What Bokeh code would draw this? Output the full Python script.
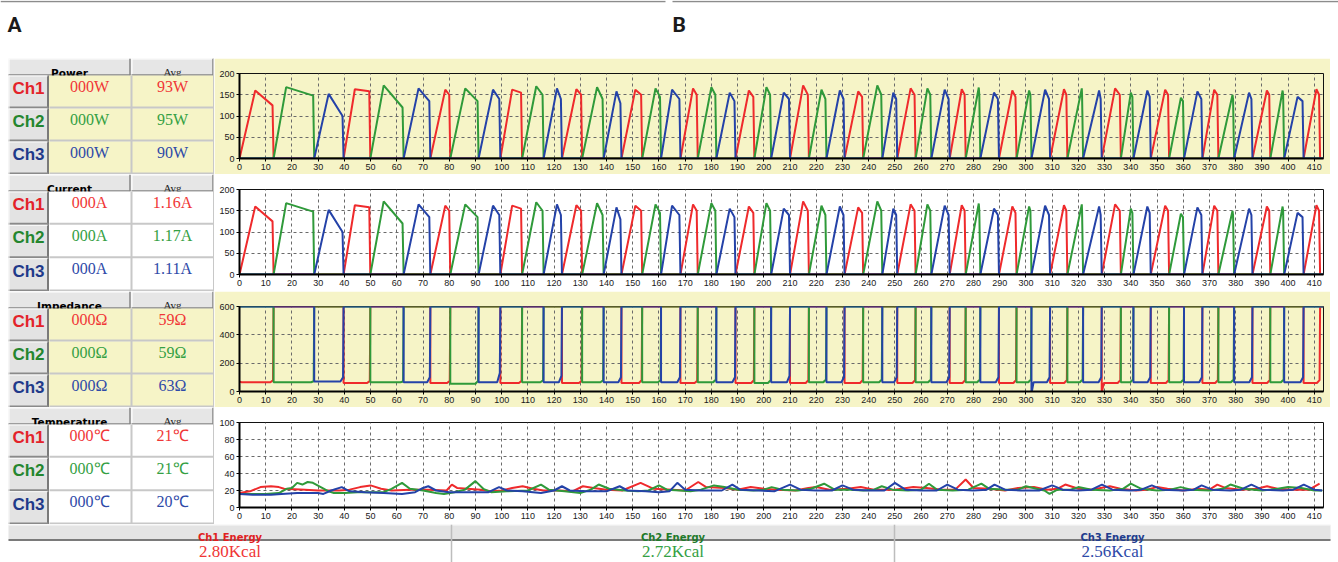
from bokeh.plotting import figure
from bokeh.layouts import column, row
from bokeh.models import Range1d, FixedTicker
from bokeh.embed import file_html
from bokeh.resources import INLINE
from bokeh.core.properties import value

# ---------------- data ----------------
channels = ["Ch1", "Ch2", "Ch3"]
power_now = ["000W", "000W", "000W"]
power_avg = ["93W", "95W", "90W"]
current_now = ["000A", "000A", "000A"]
current_avg = ["1.16A", "1.17A", "1.11A"]
imp_now = ["000Ω", "000Ω", "000Ω"]
imp_avg = ["59Ω", "59Ω", "63Ω"]
temp_now = ["000℃", "000℃", "000℃"]
temp_avg = ["21℃", "21℃", "20℃"]
energy_labels = ["Ch1 Energy", "Ch2 Energy", "Ch3 Energy"]
energy_values = ["2.80Kcal", "2.72Kcal", "2.56Kcal"]
panel_letters = ["A", "B"]

x_ticks = list(range(0, 411, 10))
power_ticks = [0, 50, 100, 150, 200]
imp_ticks = [0, 200, 400, 600]
temp_ticks = [0, 20, 40, 60, 80, 100]
X_END = 413.5

# pulse sequence (channel of each pulse, end time, peak time, peak value, value before drop)
pulse_ch = "RGBRGBRGBRGBRGBRGBRGBRGBRGBRGBRGBRGBRGBRGBRGBRGBRGBRGBR"
pulse_end = [13.0, 28.5, 39.7, 49.9, 62.6, 72.8, 80.4, 91.2, 99.5,
             107.8, 116.0, 123.0, 130.7, 138.9, 145.7, 153.6, 160.8, 168.2, 174.8, 181.9, 189.2, 196.4, 202.8, 210.0,
             217.2, 223.9, 230.8, 237.9, 245.2, 250.9, 257.9, 263.9, 270.9, 277.0, 282.6, 289.7, 296.4, 302.1, 309.2, 315.8,
             321.8, 328.9, 336.2, 341.0, 347.6, 354.6, 360.3, 367.3, 373.4, 379.4, 386.4, 393.2, 398.5, 405.9, 412.2]
peak_t = [6.0, 17.8, 34.0, 44.0, 55.0, 68.3, 78.5, 86.1, 96.7,
          104.0, 113.2, 121.1, 128.5, 136.4, 143.8, 151.0, 158.7, 165.0, 173.0, 180.0, 187.0, 194.3, 201.0, 207.6,
          215.0, 222.0, 229.0, 236.0, 243.3, 249.4, 256.0, 262.4, 269.0, 275.5, 282.0, 287.8, 294.8, 301.2, 307.3, 314.5,
          321.3, 327.9, 334.0, 340.0, 346.3, 353.1, 359.1, 365.4, 371.8, 378.8, 385.1, 391.9, 397.9, 403.6, 410.8]
peak_v = [160, 168, 152, 163, 172, 165, 162, 165, 162,
          162, 170, 165, 163, 168, 158, 162, 165, 162, 165, 168, 155, 160, 168, 155,
          172, 162, 160, 158, 172, 155, 165, 165, 162, 163, 167, 155, 160, 160, 162, 163,
          165, 160, 165, 155, 160, 162, 143, 158, 162, 150, 155, 160, 160, 145, 163]
hold_v = [125, 148, 100, 158, 120, 135, 150, 135, 140,
          155, 150, 140, 150, 140, 130, 150, 145, 140, 150, 150, 135, 145, 150, 140,
          150, 140, 140, 145, 150, 140, 150, 150, 140, 150, 150, 140, 145, 150, 140, 150,
          150, 140, 150, 145, 145, 150, 135, 140, 150, 140, 140, 150, 150, 135, 150]

# impedance during each pulse (first value, level, value at end)
imp_start = [70, 65, 70, 60, 65, 65, 60, 55, 65,
             60, 65, 65, 60, 65, 65, 60, 65, 65, 60, 65, 65, 60, 60, 65,
             60, 65, 65, 60, 65, 65, 60, 65, 65, 60, 65, 65, 60, 65, -15, 60,
             65, 65, -10, 65, 65, 60, 65, 65, 60, 65, 65, 60, 65, 65, 60]
imp_lvl = [65, 65, 70, 60, 65, 65, 60, 55, 65,
           60, 65, 65, 60, 65, 65, 60, 65, 65, 60, 65, 65, 60, 60, 65,
           60, 65, 65, 60, 65, 65, 60, 65, 65, 60, 65, 65, 60, 65, 65, 60,
           65, 65, 60, 65, 65, 60, 65, 65, 60, 65, 65, 60, 65, 65, 60]
imp_end = [80, 72, 100, 75, 70, 100, 75, 75, 130,
           75, 80, 110, 75, 80, 100, 80, 80, 100, 75, 85, 100, 80, 80, 110,
           80, 85, 100, 80, 85, 100, 80, 85, 100, 80, 85, 100, 80, 85, 100, 80,
           85, 100, 80, 85, 100, 80, 85, 100, 80, 85, 100, 80, 85, 100, 80]

# temperature
temp_r_t = [0, 4, 8, 12, 15, 17, 25, 30, 38, 42, 46, 50, 54, 58, 65, 72, 79, 81, 83, 87, 92, 96, 100, 104, 108, 112, 116,
            122, 127, 131, 135, 140, 146, 153, 158, 165, 170, 175, 178, 185, 190, 195, 200, 205, 212, 217, 220, 225,
            232, 237, 242, 250, 257, 262, 268, 273, 277, 280, 286, 292, 297, 303, 308, 312, 315, 320, 325, 332, 336,
            342, 346, 350, 354, 360, 366, 370, 373, 376, 382, 388, 392, 396, 402, 408, 412]
temp_r_v = [17, 19, 24, 25, 24, 22, 21, 20, 20, 21, 24, 26, 22, 20, 21, 21, 20, 27, 23, 22, 21, 19, 20, 23, 25, 22, 20,
            20, 19, 25, 23, 21, 20, 29, 22, 21, 20, 30, 24, 23, 21, 24, 22, 21, 20, 23, 24, 21,
            22, 24, 21, 21, 24, 23, 21, 21, 33, 23, 22, 20, 23, 24, 21, 22, 27, 22, 21, 25, 22,
            20, 21, 24, 22, 20, 22, 21, 27, 23, 21, 22, 25, 22, 21, 21, 28]
temp_g_t = [0, 10, 15, 18, 20, 22, 24, 26, 28, 31, 34, 36, 40, 45, 55, 58, 62, 65, 70, 75, 78, 82, 86, 90, 93, 96, 102,
            110, 115, 118, 124, 130, 134, 137, 141, 147, 152, 156, 160, 163, 168, 172, 176, 181, 185, 190, 196, 200,
            203, 207, 213, 218, 223, 227, 233, 238, 242, 245, 249, 255, 260, 263, 266, 272, 278, 283, 286, 292, 297,
            300, 304, 307, 309, 312, 317, 320, 325, 332, 337, 340, 344, 350, 355, 359, 363, 370, 375, 378, 383, 390,
            396, 400, 405, 410, 413]
temp_g_v = [16, 16, 17, 22, 23, 29, 27, 30, 29, 24, 19, 17, 17, 18, 18, 22, 29, 22, 20, 17, 16, 18, 21, 31, 22, 18, 19,
            20, 27, 21, 19, 17, 21, 27, 22, 20, 19, 20, 26, 21, 20, 19, 21, 26, 24, 21, 20, 21,
            24, 21, 20, 22, 28, 21, 21, 20, 21, 25, 21, 20, 21, 28, 21, 20, 21, 28, 22, 21, 21,
            25, 22, 20, 16, 21, 21, 24, 21, 20, 22, 28, 22, 20, 21, 24, 21, 20, 22, 27, 22, 20,
            22, 24, 23, 20, 20]
temp_b_t = [0, 5, 12, 16, 22, 30, 32, 35, 39, 42, 48, 55, 62, 67, 70, 72, 75, 80, 88, 95, 99, 102, 108, 115, 120, 123,
            126, 132, 140, 145, 148, 155, 160, 164, 167, 170, 176, 184, 188, 191, 198, 204, 210, 214, 220, 226, 230,
            234, 240, 246, 250, 254, 260, 266, 270, 274, 280, 285, 288, 292, 298, 305, 310, 314, 320, 325, 329, 333,
            340, 344, 348, 352, 360, 364, 367, 371, 378, 382, 386, 390, 398, 402, 406, 410, 413]
temp_b_v = [16, 15, 15, 16, 17, 17, 16, 20, 24, 19, 18, 17, 16, 18, 23, 25, 20, 18, 18, 18, 24, 20, 19, 17, 20, 25,
            20, 19, 19, 25, 20, 19, 18, 19, 29, 21, 20, 20, 27, 21, 20, 19, 27, 21, 20, 20, 26,
            21, 20, 20, 29, 21, 20, 20, 27, 21, 20, 21, 27, 21, 20, 20, 26, 21, 20, 21, 27, 21,
            20, 21, 26, 21, 20, 21, 26, 21, 20, 21, 27, 21, 20, 21, 27, 21, 20]

# ---------------- style ----------------
LINE_COLORS = {"R": "#ef2a2c", "G": "#2f9a3a", "B": "#2442a8"}
LABEL_COLORS = ["#e3232a", "#24862e", "#1f3a8a"]
VALUE_COLORS = ["#f03636", "#34a043", "#2e4aa8"]
FOOT_COLORS = ["#e01f1f", "#1f7a2a", "#213c8e"]
YELLOW = "#f6f4c7"
WHITE = "#ffffff"
CELL_GREY = "#e6e6e6"
SEP = "#c8c8c8"
DARK = "#858585"


def pulse_line(ch):
    xs, ys = [0.0], [0.0]
    start = 0.0
    for c, e, pt, pv, hv in zip(pulse_ch, pulse_end, peak_t, peak_v, hold_v):
        if c == ch:
            xs += [start, pt, e - 0.4, e]
            ys += [0, pv, hv, 0]
        start = e
    xs.append(X_END)
    ys.append(0)
    return xs, ys


def imp_line(ch):
    xs, ys = [], []
    start = 0.0
    for c, e, s0, lv, en in zip(pulse_ch, pulse_end, imp_start, imp_lvl, imp_end):
        if c == ch:
            if start > 0:
                if not xs:
                    xs.append(0.0)
                    ys.append(600)
                xs.append(start)
                ys.append(600)
            xs += [start, start + 0.8, e - 1.2, e - 0.2, e]
            ys += [s0, lv, lv, en, 600]
        start = e
    xs.append(X_END)
    ys.append(600)
    return xs, ys


def plain_fig(w, h, x0=0):
    f = figure(width=w, height=h, x_range=Range1d(x0, x0 + w), y_range=Range1d(h, 0),
               x_axis_type=None, y_axis_type=None, output_backend="svg", toolbar_location=None,
               min_border=0, frame_align=False)
    f.outline_line_color = None
    f.background_fill_color = WHITE
    f.border_fill_color = WHITE
    return f


def make_chart(height, top, y_end, y_ticks, bg):
    p = figure(width=1116, height=height, x_range=Range1d(0, X_END), y_range=Range1d(0, y_end),
               output_backend="svg", toolbar_location=None,
               min_border_left=25, min_border_right=7, min_border_top=top,
               min_border_bottom=height - top - 85, frame_align=False)
    p.background_fill_color = bg
    p.border_fill_color = bg
    p.outline_line_color = "#111111"
    p.outline_line_width = 1
    p.xaxis.ticker = FixedTicker(ticks=x_ticks)
    p.yaxis.ticker = FixedTicker(ticks=y_ticks)
    for ax in (p.xaxis[0], p.yaxis[0]):
        ax.axis_line_width = 2
        ax.axis_line_color = "#000000"
        ax.major_tick_out = 3
        ax.major_tick_in = 0
        ax.major_tick_line_color = "#000000"
        ax.minor_tick_line_color = None
        ax.major_label_text_font = "Liberation Sans"
        ax.major_label_text_font_size = "9px"
        ax.major_label_text_color = "#1a1a1a"
        ax.major_label_standoff = 2
    p.grid.grid_line_color = "#6a6a6a"
    p.grid.grid_line_dash = "3 3"
    p.grid.grid_line_width = 1
    return p


def make_table(height, title, now, avg, bg):
    # local x = page x - 8, local y = page y - panel top
    t = plain_fig(214, height, x0=-8)
    # header cells
    t.quad(left=[0, 123], right=[122, 205], top=[0, 0], bottom=[17, 17],
           fill_color=CELL_GREY, line_color=None)
    t.segment(x0=[0, 123, 0.5, 123.5], y0=[0.5, 0.5, 0, 0], x1=[122, 205, 0.5, 123.5], y1=[0.5, 0.5, 17, 17],
              line_color="#ffffff", line_width=1)
    t.segment(x0=[0, 123, 121.5, 204.5], y0=[16.5, 16.5, 0, 0], x1=[122, 205, 121.5, 204.5], y1=[16.5, 16.5, 17, 17],
              line_color=DARK, line_width=1.5)
    t.text(x=[61], y=[14.5], text=[title], text_font=value("DejaVu Sans"), text_font_style="bold",
           text_font_size="10.5px", text_align="center", text_baseline="alphabetic", text_color="#000000")
    t.text(x=[164], y=[13.5], text=["Avg"], text_font=value("Liberation Serif"),
           text_font_size="11px", text_align="center", text_baseline="alphabetic", text_color="#222222")
    rh = (height - 17) / 3.0
    tops = [17 + i * rh for i in range(3)]
    bots = [17 + (i + 1) * rh for i in range(3)]
    # value cells background
    t.quad(left=[40] * 3, right=[206] * 3, top=tops, bottom=bots, fill_color=bg, line_color=None)
    # channel buttons
    t.quad(left=[0] * 3, right=[40] * 3, top=tops, bottom=bots, fill_color="#e3e3e3", line_color=None)
    t.segment(x0=[39.5] * 3, y0=tops, x1=[39.5] * 3, y1=bots, line_color="#7a7a7a", line_width=2)
    t.segment(x0=[0] * 3, y0=[b - 1 for b in bots], x1=[40] * 3, y1=[b - 1 for b in bots],
              line_color="#8a8a8a", line_width=2)
    t.segment(x0=[0] * 3, y0=[tp + 0.5 for tp in tops], x1=[39] * 3, y1=[tp + 0.5 for tp in tops],
              line_color="#fbfbfb", line_width=1)
    t.segment(x0=[0.5] * 3, y0=tops, x1=[0.5] * 3, y1=bots, line_color="#fbfbfb", line_width=1)
    # cell separators
    t.segment(x0=[41] * 3, y0=[b - 1 for b in bots], x1=[205] * 3, y1=[b - 1 for b in bots],
              line_color=SEP, line_width=2)
    t.segment(x0=[123, 205.5], y0=[17, 0], x1=[123, 205.5], y1=[height, height], line_color=SEP, line_width=2)
    # texts
    t.text(x=[20] * 3, y=[tp + 13 for tp in tops], text=channels, text_color=LABEL_COLORS,
           text_font=value("Liberation Sans"), text_font_style="bold", text_font_size="17px",
           text_align="center", text_baseline="middle")
    t.text(x=[81] * 3, y=[tp + 10.5 for tp in tops], text=now, text_color=VALUE_COLORS,
           text_font=value("Liberation Serif"), text_font_size="16px",
           text_align="center", text_baseline="middle")
    t.text(x=[164] * 3, y=[tp + 10.5 for tp in tops], text=avg, text_color=VALUE_COLORS,
           text_font=value("Liberation Serif"), text_font_size="16px",
           text_align="center", text_baseline="middle")
    return t


# ---------------- header (page coordinates) ----------------
head = plain_fig(1338, 58)
head.segment(x0=[0, 672], y0=[1, 1], x1=[665, 1338], y1=[1, 1], line_color="#8c8c8c", line_width=1.5)
head.text(x=[7, 672], y=[24, 24], text=panel_letters, text_font=value("Roboto"), text_font_style="bold",
          text_font_size="21px", text_baseline="alphabetic", text_align="left", text_color="#1a1a1a")

# ---------------- panels ----------------
panels = []
specs = [
    (116, "Power", power_now, power_avg, YELLOW, 200, power_ticks, "power"),
    (117, "Current", current_now, current_avg, WHITE, 200, power_ticks, "current"),
    (116, "Impedance", imp_now, imp_avg, YELLOW, 600, imp_ticks, "imp"),
    (117, "Temperature", temp_now, temp_avg, WHITE, 100, temp_ticks, "temp"),
]
temps = {"R": (temp_r_t, temp_r_v), "G": (temp_g_t, temp_g_v), "B": (temp_b_t, temp_b_v)}
for h, title, now, avg, bg, yend, yt, kind in specs:
    tb = make_table(h, title, now, avg, bg)
    ch = make_chart(h, 15, yend, yt, bg)
    for c in "RGB":
        if kind in ("power", "current"):
            xs, ys = pulse_line(c)
        elif kind == "imp":
            xs, ys = imp_line(c)
        else:
            xs, ys = temps[c]
        ch.line(xs, ys, line_color=LINE_COLORS[c], line_width=2)
    panels.append(row(tb, ch, spacing=0))

# ---------------- footer (page x coordinates) ----------------
foot = plain_fig(1338, 38)
foot.quad(left=[8], right=[1330], top=[0], bottom=[16], fill_color="#e4e4e4", line_color=None)
foot.segment(x0=[8], y0=[0.5], x1=[1330], y1=[0.5], line_color="#fafafa", line_width=1)
foot.segment(x0=[8], y0=[15.5], x1=[1330], y1=[15.5], line_color="#7a7a7a", line_width=2)
foot.segment(x0=[451, 894], y0=[0, 0], x1=[451, 894], y1=[38, 38], line_color="#bdbdbd", line_width=1.5)
centers = [229.5, 672.5, 1112]
foot.text(x=centers, y=[12.5] * 3, text=energy_labels, text_color=FOOT_COLORS,
          text_font=value("DejaVu Sans"), text_font_style="bold", text_font_size="10px",
          text_align="center", text_baseline="alphabetic")
foot.text(x=centers, y=[27] * 3, text=energy_values, text_color=VALUE_COLORS,
          text_font=value("Liberation Serif"), text_font_size="17px",
          text_align="center", text_baseline="middle")

layout = column([head] + panels + [foot], spacing=0)
open("out.html", "w").write(file_html(layout, INLINE))
